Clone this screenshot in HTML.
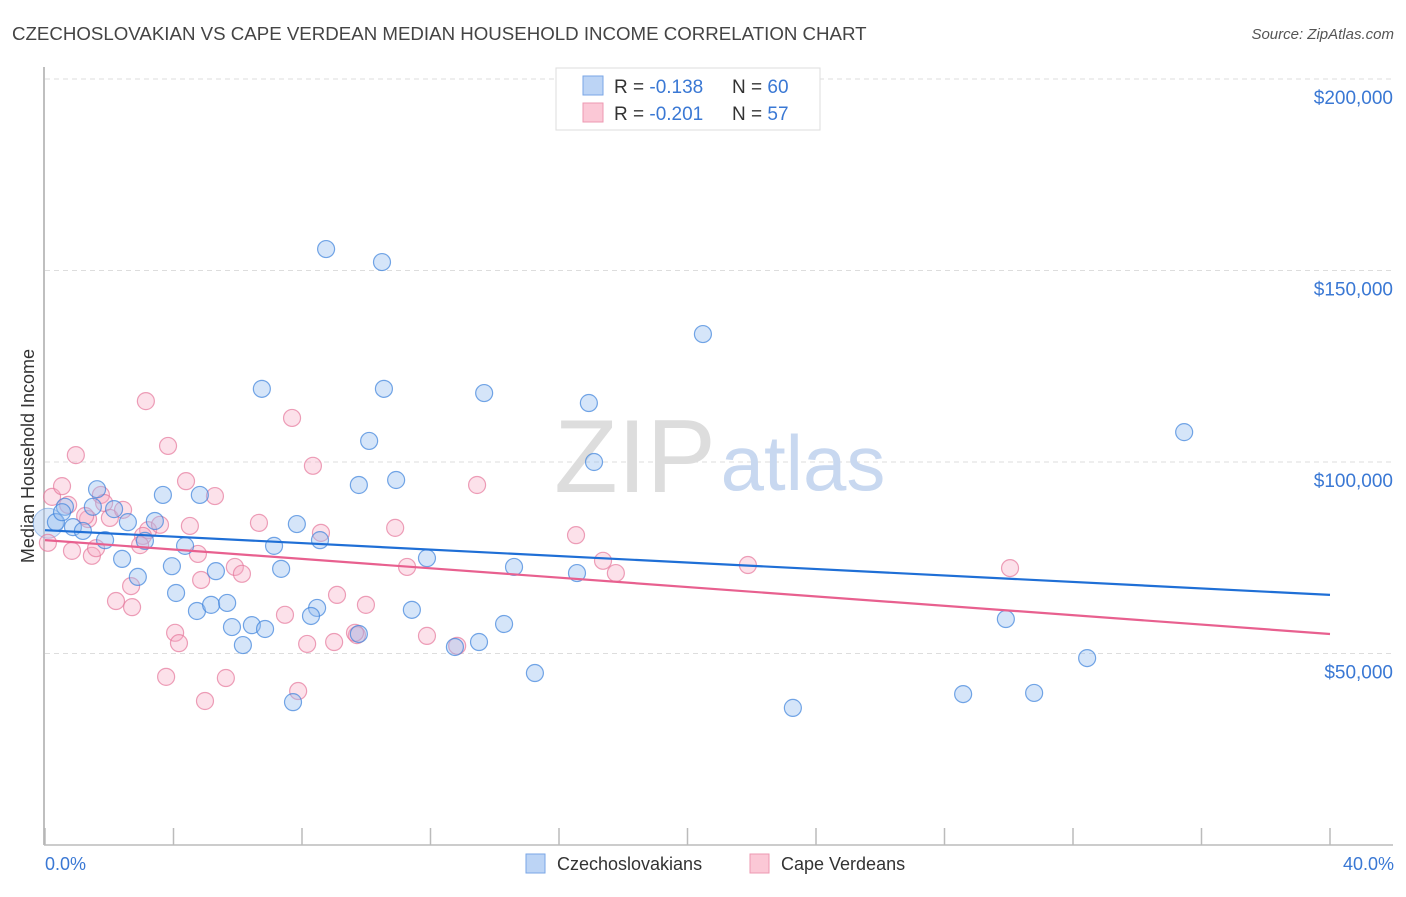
<!DOCTYPE html>
<html><head><meta charset="utf-8">
<style>
body{margin:0;background:#fff;font-family:"Liberation Sans",sans-serif}
svg text{font-family:"Liberation Sans",sans-serif}
</style></head>
<body>
<svg id="chart" width="1406" height="892" viewBox="0 0 1406 892" xmlns="http://www.w3.org/2000/svg">
<text x="12" y="40" font-size="18.7" fill="#444">CZECHOSLOVAKIAN VS CAPE VERDEAN MEDIAN HOUSEHOLD INCOME CORRELATION CHART</text>
<text x="1394" y="39" font-size="15" fill="#555" text-anchor="end" font-style="italic">Source: ZipAtlas.com</text>
<g id="grid"></g>
<g>
<text x="635" y="492" font-size="104" fill="#ddd" text-anchor="middle" font-family="Liberation Serif">ZIP</text>
<text x="803" y="490" font-size="78" fill="#c8d8f0" text-anchor="middle">atlas</text>
</g>
<line x1="44" y1="67" x2="44" y2="845" stroke="#aaa" stroke-width="1.5"/>
<line x1="44" y1="845" x2="1393" y2="845" stroke="#bbb" stroke-width="1.5"/>
<g id="ticks"></g>
<g id="ylabels"></g>
<text transform="translate(34,456) rotate(-90)" font-size="18" fill="#333" text-anchor="middle">Median Household Income</text>
<text x="45" y="870" font-size="18" fill="#3a78d4">0.0%</text>
<text x="1394" y="870" font-size="18" fill="#3a78d4" text-anchor="end">40.0%</text>
<g id="points"></g>
<g id="trends"></g>
<g>
<rect x="556" y="68" width="264" height="62" fill="#fff" stroke="#ddd"/>
<rect x="583" y="76" width="20" height="19" fill="#bcd4f5" stroke="#7aa6e6"/>
<rect x="583" y="103" width="20" height="19" fill="#fbc8d6" stroke="#ee98b2"/>
<text x="614" y="93" font-size="19" fill="#333">R = <tspan fill="#3a78d4">-0.138</tspan><tspan x="732">N = </tspan><tspan fill="#3a78d4">60</tspan></text>
<text x="614" y="120" font-size="19" fill="#333">R = <tspan fill="#3a78d4">-0.201</tspan><tspan x="732">N = </tspan><tspan fill="#3a78d4"> 57</tspan></text>
</g>
<g>
<rect x="526" y="854" width="19" height="19" fill="#bcd4f5" stroke="#7aa6e6"/>
<text x="557" y="870" font-size="18" fill="#333">Czechoslovakians</text>
<rect x="750" y="854" width="19" height="19" fill="#fbc8d6" stroke="#ee98b2"/>
<text x="781" y="870" font-size="18" fill="#333">Cape Verdeans</text>
</g>
</svg>
<script>
const yTicks=[50000,100000,150000,200000];
const yTickLabels=["$50,000","$100,000","$150,000","$200,000"];
const xTicks=[0,4,8,12,16,20,24,28,32,36,40];
const czechX=[0.34,0.62,0.53,1.62,1.49,0.87,1.18,1.87,2.15,2.58,2.40,2.89,3.67,3.42,3.11,4.36,4.82,3.95,4.08,4.73,5.17,5.67,5.32,5.82,6.16,6.44,6.85,7.13,7.35,6.75,7.84,8.56,8.47,8.28,7.72,8.75,10.49,10.55,10.09,9.77,10.93,9.77,11.42,11.89,12.76,13.51,14.29,14.60,15.25,13.67,16.93,17.09,16.56,20.48,23.28,28.58,29.91,30.79,32.44,35.46];
const czechY=[84.3,88.3,86.9,92.9,88.3,83.0,82.0,79.6,87.7,84.3,74.7,70.0,91.4,84.6,79.4,78.1,91.4,72.8,65.8,61.1,62.7,63.2,71.5,56.9,52.2,57.4,56.4,78.1,72.1,119.1,83.8,79.6,61.9,59.8,37.3,155.6,152.2,119.1,105.5,94.0,95.3,55.1,61.4,74.9,51.7,53.0,57.7,72.6,44.9,118.0,115.4,100.0,71.0,133.4,35.8,39.4,59.0,39.7,48.8,107.8];
const capeX=[0.22,0.53,0.09,0.96,0.84,1.34,1.74,1.46,1.59,1.84,2.02,2.43,3.14,3.83,3.21,3.05,2.68,2.21,2.71,4.39,5.29,4.51,4.76,4.86,4.05,4.17,3.77,5.63,4.98,5.91,6.13,6.66,7.69,8.34,7.47,8.59,8.16,9.09,9.00,9.99,9.71,7.88,10.90,11.27,13.45,11.89,12.83,16.53,17.37,17.77,21.88,30.04,0.72,1.25,3.58,9.65,2.96];
const capeY=[90.9,93.7,78.9,101.8,76.8,85.1,91.4,75.5,77.5,89.3,85.4,87.5,115.9,104.2,82.2,80.7,67.6,63.7,62.1,95.0,91.1,83.3,76.0,69.2,55.4,52.7,43.9,43.6,37.6,72.6,70.8,84.1,111.5,99.0,60.1,81.5,52.5,65.3,53.0,62.7,54.8,40.2,82.8,72.6,94.0,54.6,52.0,80.9,74.2,71.0,73.1,72.3,88.8,85.9,83.6,55.4,78.3];
const czechTrend=[82.2,65.3];
const capeTrend=[79.6,55.1];
const NS="http://www.w3.org/2000/svg";
const X0=45,X1=1330,Y0=845,PXK=191.5/50;
function xs(v){return X0+(v/40)*(X1-X0);}
function ys(k){return Y0-k*PXK;}
function mk(t,a,p){const e=document.createElementNS(NS,t);for(const k in a)e.setAttribute(k,a[k]);p.appendChild(e);return e;}
const grid=document.getElementById('grid'),yl=document.getElementById('ylabels'),tk=document.getElementById('ticks');
yTicks.forEach((v,i)=>{const y=ys(v/1000);
const l=mk('line',{x1:45,x2:1393,y1:y,y2:y,stroke:'#ddd','stroke-dasharray':'5,4'},grid);


const t=mk('text',{x:1393,y:y+25,'font-size':19,fill:'#3a78d4','text-anchor':'end'},yl);t.textContent=yTickLabels[i];

});
xTicks.forEach(v=>{const x=xs(v);const l=mk('line',{x1:x,x2:x,y1:828,y2:845,stroke:'#bbb','stroke-width':1.5},tk);

});
const pts=document.getElementById('points');
const big=mk('circle',{cx:xs(0.1),cy:ys(84),r:15,fill:'rgba(168,200,240,0.45)',stroke:'rgba(106,157,224,0.6)'},pts);


function series(X,Y,fill,stroke,name){X.forEach((v,i)=>{const c=mk('circle',{cx:xs(v),cy:ys(Y[i]),r:8.5,fill:fill,stroke:stroke,'stroke-width':1.2},pts);

});}
series(capeX,capeY,'rgba(245,170,195,0.35)','rgba(230,120,155,0.7)','cape-verdean-point');
series(czechX,czechY,'rgba(150,190,240,0.4)','rgba(60,130,220,0.7)','czech-point');
const tr=document.getElementById('trends');
const l1=mk('line',{x1:xs(0),y1:ys(czechTrend[0]),x2:xs(40),y2:ys(czechTrend[1]),stroke:'#1f6fd6','stroke-width':2.2},tr);


const l2=mk('line',{x1:xs(0),y1:ys(capeTrend[0]),x2:xs(40),y2:ys(capeTrend[1]),stroke:'#e8608f','stroke-width':2.2},tr);


</script>
</body></html>
